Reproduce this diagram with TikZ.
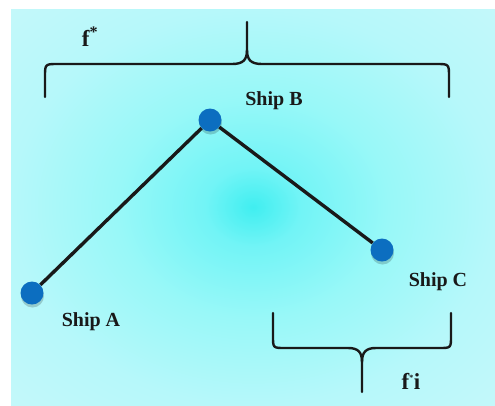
\documentclass[tikz,border=0pt]{standalone}
\usepackage{fontspec}
\setmainfont{Liberation Serif}
\definecolor{glowA}{HTML}{40EEF0}
\definecolor{glowB}{HTML}{72F4F6}
\definecolor{glowC}{HTML}{98F8F8}
\definecolor{glowD}{HTML}{B6F8FA}
\definecolor{glowE}{HTML}{C4F8FA}
\definecolor{shipblue}{HTML}{0C6EC0}
\pgfdeclareradialshading{bgglow}{\pgfpoint{0bp}{0bp}}{%
  color(0bp)=(glowA);
  color(5bp)=(glowB);
  color(14bp)=(glowC);
  color(25bp)=(glowD);
  color(36bp)=(glowE);
  color(50bp)=(glowE)}
\tikzset{
  shipdot/.style={circle, fill=shipblue, minimum size=23pt, inner sep=0pt},
  shiplabel/.style={font=\bfseries\fontsize{20}{23}\selectfont, inner sep=0pt, text=black!90},
  fstar/.style={font=\bfseries\fontsize{23}{26}\selectfont, inner sep=0pt, text=black!90},
  route/.style={line width=3.4pt, black!90},
  bracepath/.style={line width=2.4pt, black!90, line cap=round, line join=round}
}
\begin{document}
\begin{tikzpicture}[x=1pt, y=-1pt]
\useasboundingbox (0,0) rectangle (495,405);
\fill[white] (0,0) rectangle (495,405);
\shade[shading=bgglow] (11,9) rectangle (495,405);

% top brace
\coordinate (tbL) at (45,97);
\coordinate (tbR) at (449,97);
\coordinate (tbTip) at (247,22);
\draw[bracepath] (tbL) -- (45,77) .. controls (45,64) .. (58,64) -- (232,64)
  .. controls (243,64) and (247,60) .. (247,50) -- (tbTip);
\draw[bracepath] (tbR) -- (449,77) .. controls (449,64) .. (436,64) -- (262,64)
  .. controls (251,64) and (247,60) .. (247,50);

% bottom brace
\coordinate (bbL) at (273,313);
\coordinate (bbR) at (451,313);
\coordinate (bbTip) at (362,392);
\draw[bracepath] (bbL) -- (273,336) .. controls (273,348) .. (285,348) -- (348,348)
  .. controls (358,348) and (362,352) .. (362,362) -- (bbTip);
\draw[bracepath] (bbR) -- (451,336) .. controls (451,348) .. (439,348) -- (376,348)
  .. controls (366,348) and (362,352) .. (362,362);

% ships
\fill[black, opacity=0.18] (32.5,296) circle (11.5pt);
\fill[black, opacity=0.18] (210.5,123) circle (11.5pt);
\fill[black, opacity=0.18] (382.5,253) circle (11.5pt);
\node[shipdot] (A) at (32,293) {};
\node[shipdot] (B) at (210,120) {};
\node[shipdot] (C) at (382,250) {};
\draw[route] (A) -- (B) -- (C);

\node[shiplabel] (la) at (91,322) {Ship A};
\node[shiplabel] (lb) at (274,101) {Ship B};
\node[shiplabel] (lc) at (438,282) {Ship C};

\node[fstar] (f1) at (90,37) {f\textsuperscript{*}};
\node[fstar] (f2) at (411,381) {f\textsuperscript{\footnotesize *}i};
\end{tikzpicture}
\end{document}
